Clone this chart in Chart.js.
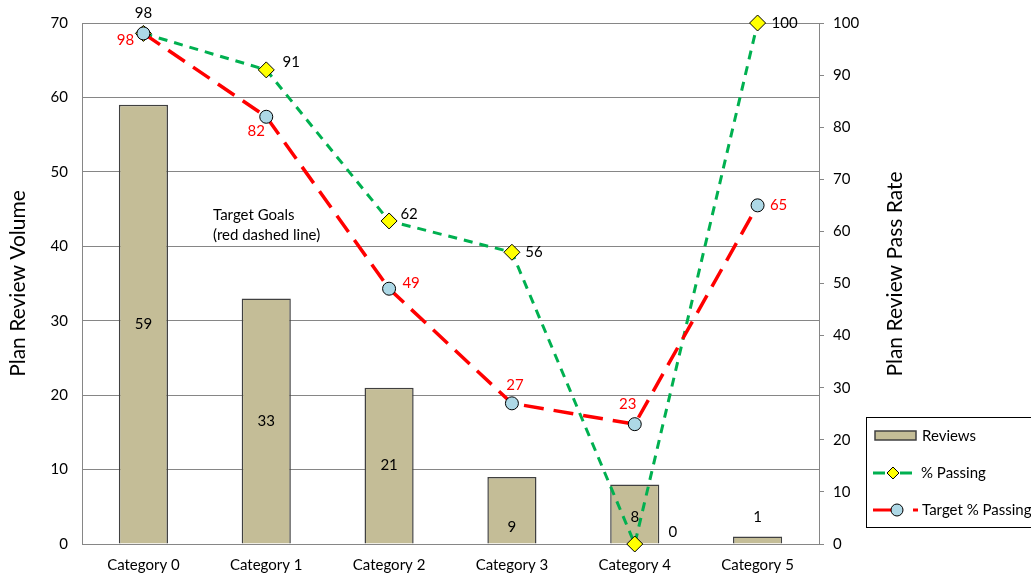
<!DOCTYPE html>
<html>
<head>
<meta charset="utf-8">
<title>Plan Review</title>
<script src="https://cdn.jsdelivr.net/npm/chart.js@4.4.0/dist/chart.umd.min.js"></script>
<style>
    body { margin: 0; background: #fff; }
    #wrap { width: 1031px; height: 573px; }
</style>
</head>
<body>
<div id="wrap"><canvas id="planChart" width="1031" height="573"></canvas></div>
<script>
// Chart data
const categories = ['Category 0', 'Category 1', 'Category 2', 'Category 3', 'Category 4', 'Category 5'];
const reviews = [59, 33, 21, 9, 8, 1];            // left axis (volume)
const passing = [98, 91, 62, 56, 0, 100];          // right axis (%)
const targetPassing = [98, 82, 49, 27, 23, 65];    // right axis (%)

// Label nudges (dx, dy) so the numbers sit where the original puts them
const barLabelShift = [[0, 0], [0, 0], [0, 0], [0, 17], [0, 3], [0, -23]];
const passingLabelShift = [[0, -20], [25, -8], [20, -7], [22, 0], [38, -12], [27, 0]];
const targetLabelShift = [[-18, 7], [-10, 14], [22, -6], [3, -18], [-7, -20], [21, 0]];

const FONT = 'Lato';
const GRID = '#868686';

const labelPlugin = {
    id: 'valueLabels',
    afterDatasetsDraw(chart) {
        const c = chart.ctx;
        c.save();
        c.font = '15px ' + FONT;
        c.textAlign = 'center';
        c.textBaseline = 'middle';

        // bar values
        c.fillStyle = '#000';
        chart.getDatasetMeta(0).data.forEach((bar, i) => {
            const cy = (bar.y + bar.base) / 2;
            c.fillText(reviews[i], bar.x + barLabelShift[i][0], cy + barLabelShift[i][1]);
        });

        // % passing values
        chart.getDatasetMeta(1).data.forEach((pt, i) => {
            c.fillText(passing[i], pt.x + passingLabelShift[i][0], pt.y + passingLabelShift[i][1]);
        });

        // target values (red)
        c.fillStyle = '#FF0000';
        chart.getDatasetMeta(2).data.forEach((pt, i) => {
            c.fillText(targetPassing[i], pt.x + targetLabelShift[i][0], pt.y + targetLabelShift[i][1]);
        });

        // note
        c.fillStyle = '#000';
        c.textAlign = 'left';
        c.fillText('Target Goals', 213, 215);
        c.fillText('(red dashed line)', 213, 235);

        // right axis title, reading bottom to top like the left one
        c.translate(895, 274);
        c.rotate(-Math.PI / 2);
        c.textAlign = 'center';
        c.font = '21px ' + FONT;
        c.fillText('Plan Review Pass Rate', 0, 0);
        c.restore();
    },
    afterDraw(chart) {
        // hand drawn legend box, bottom right
        const c = chart.ctx;
        c.save();
        c.strokeStyle = '#000';
        c.lineWidth = 1;
        c.strokeRect(866.5, 417.5, 200, 110);

        c.font = '15px ' + FONT;
        c.textAlign = 'left';
        c.textBaseline = 'middle';

        // Reviews
        c.fillStyle = '#C4BD97';
        c.fillRect(875, 431, 41, 9);
        c.strokeStyle = '#404040';
        c.lineWidth = 1.5;
        c.strokeRect(875, 431, 41, 9);
        c.fillStyle = '#000';
        c.fillText('Reviews', 922, 436);

        // % Passing
        c.strokeStyle = '#00B050';
        c.lineWidth = 3;
        c.beginPath();
        c.moveTo(873, 473); c.lineTo(885, 473);
        c.moveTo(900, 473); c.lineTo(912, 473);
        c.stroke();
        c.beginPath();
        c.moveTo(893, 467); c.lineTo(899, 473); c.lineTo(893, 479); c.lineTo(887, 473); c.closePath();
        c.fillStyle = '#FFFF00';
        c.fill();
        c.strokeStyle = '#000';
        c.lineWidth = 1;
        c.stroke();
        c.fillStyle = '#000';
        c.fillText('% Passing', 921, 473);

        // Target % Passing
        c.strokeStyle = '#FF0000';
        c.lineWidth = 3;
        c.beginPath();
        c.moveTo(873, 510); c.lineTo(903, 510);
        c.moveTo(913, 510); c.lineTo(918, 510);
        c.stroke();
        c.beginPath();
        c.arc(897, 510, 6, 0, Math.PI * 2);
        c.fillStyle = '#ADD8E6';
        c.fill();
        c.strokeStyle = '#000';
        c.lineWidth = 1;
        c.stroke();
        c.fillStyle = '#000';
        c.fillText('Target % Passing', 922, 510);
        c.restore();
    }
};

const ctx = document.getElementById('planChart').getContext('2d');

const planChart = new Chart(ctx, {
    type: 'bar',
    data: {
        labels: categories,
        datasets: [
            {
                label: 'Reviews',
                data: reviews,
                yAxisID: 'y',
                backgroundColor: '#C4BD97',
                borderColor: '#404040',
                borderWidth: 1.5,
                barPercentage: 0.4,
                categoryPercentage: 1,
                order: 2
            },
            {
                type: 'line',
                label: '% Passing',
                data: passing,
                yAxisID: 'y2',
                borderColor: '#00B050',
                borderWidth: 3,
                borderDash: [9, 7],
                tension: 0,
                fill: false,
                clip: false,
                pointStyle: 'rectRot',
                pointRadius: 8,
                pointBackgroundColor: '#FFFF00',
                pointBorderColor: '#000',
                pointBorderWidth: 1,
                order: 1
            },
            {
                type: 'line',
                label: 'Target % Passing',
                data: targetPassing,
                yAxisID: 'y2',
                borderColor: '#FF0000',
                borderWidth: 3.5,
                borderDash: [20, 10],
                tension: 0,
                fill: false,
                clip: false,
                pointStyle: 'circle',
                pointRadius: 6.5,
                pointBackgroundColor: '#ADD8E6',
                pointBorderColor: '#000',
                pointBorderWidth: 1,
                order: 0
            }
        ]
    },
    options: {
        responsive: false,
        animation: false,
        layout: {
            padding: { left: 2, right: 121, top: 22, bottom: 0 }
        },
        plugins: {
            legend: { display: false },
            tooltip: { enabled: false }
        },
        scales: {
            x: {
                offset: true,
                grid: { display: false, drawTicks: false },
                border: { color: GRID },
                ticks: { color: '#000', padding: 12, font: { family: FONT, size: 15 } },
                afterFit: (s) => { s.height = 29; }
            },
            y: {
                position: 'left',
                min: 0,
                max: 70,
                ticks: { stepSize: 10, padding: 14, color: '#000', font: { family: FONT, size: 15 } },
                grid: { color: GRID, drawTicks: false },
                border: { color: GRID },
                title: {
                    display: true,
                    text: 'Plan Review Volume',
                    color: '#000',
                    font: { family: FONT, size: 21 }
                },
                afterFit: (s) => { s.width = 80; }
            },
            y2: {
                position: 'right',
                min: 0,
                max: 100,
                ticks: { stepSize: 10, padding: 9, color: '#000', font: { family: FONT, size: 15 } },
                grid: { drawOnChartArea: false, color: GRID, tickLength: 5 },
                border: { color: GRID },
                afterFit: (s) => { s.width = 91; }
            }
        }
    },
    plugins: [labelPlugin]
});
</script>
</body>
</html>
